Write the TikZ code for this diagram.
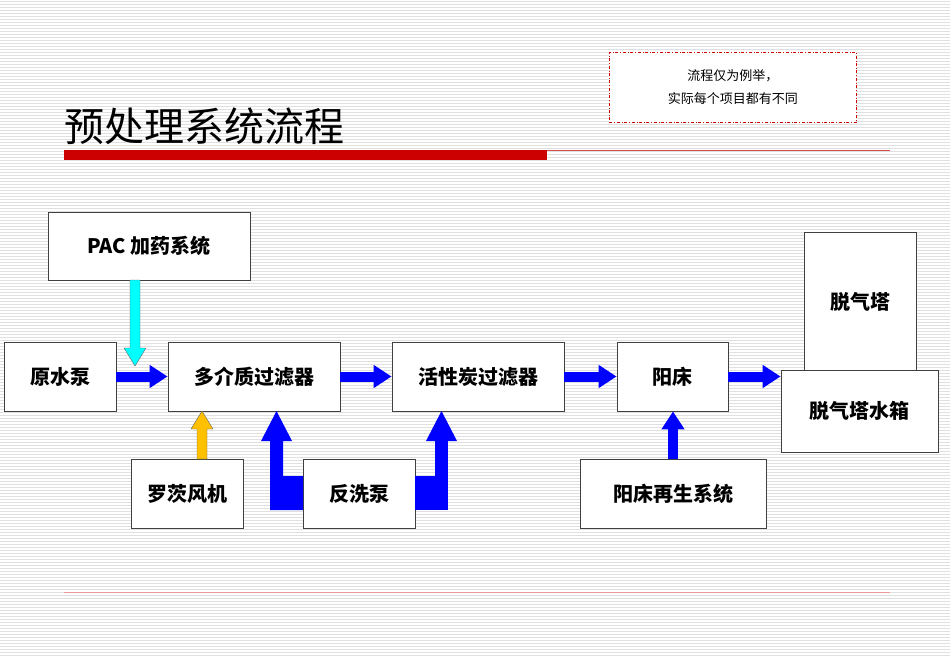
\documentclass[tikz,border=0pt]{standalone}
\usepackage{fontspec}
\setmainfont{Noto Sans CJK SC}
\usetikzlibrary{arrows.meta,calc}
\definecolor{bl}{RGB}{0,0,255}
\definecolor{cy}{RGB}{0,255,255}
\definecolor{yl}{RGB}{255,192,0}
\definecolor{rd}{RGB}{204,0,0}
\begin{document}
\begin{tikzpicture}[x=1pt,y=-1pt,
 box/.style={draw=black!75,line width=0.8pt,fill=white,font=\bfseries\fontsize{20}{22}\selectfont,inner sep=0pt},
 barr/.style={draw=black!60,line width=0.4pt,fill=#1},
 harr/.style={-{Triangle[length=18pt 0 0,width=22pt 0 0]},line width=10pt,color=bl}]
\useasboundingbox (0,0) rectangle (950,658);
\fill[white] (0,0) rectangle (950,658);
\foreach \i in {0,...,219} \draw[black!12,line width=0.6pt] (0,3*\i+1) -- (950,3*\i+1);
% title
\node[anchor=west,font=\fontsize{40}{44}\selectfont,inner sep=0pt] (title) at (64,126) {预处理系统流程};
\fill[rd] (64,150) rectangle (547,160);
\draw[rd!70,line width=0.8pt] (547,150) -- (890,150);
\draw[rd!40,line width=0.8pt] (64,592) -- (890,592);
\node[draw=rd,dash dot,line width=0.8pt,minimum width=247pt,minimum height=70pt,anchor=north west,fill=white,align=center,font=\fontsize{13}{23}\selectfont] (note) at (609,52) {流程仅为例举，\\实际每个项目都有不同};
% boxes
\node[box,minimum width=202pt,minimum height=68pt] (pac) at (149,246) {PAC 加药系统};
\node[box,minimum width=112pt,minimum height=69pt] (ys) at (60,376.5) {原水泵};
\node[box,minimum width=172pt,minimum height=69pt] (dj) at (254,376.5) {多介质过滤器};
\node[box,minimum width=172pt,minimum height=69pt] (hx) at (478,376.5) {活性炭过滤器};
\node[box,minimum width=111pt,minimum height=69pt] (yc) at (672.5,376.5) {阳床};
\node[box,minimum width=112pt,minimum height=138pt,text depth=0pt] (tq) at (860,301) {};
\node[font=\bfseries\fontsize{20}{22}\selectfont] at (860,302) {脱气塔};
\node[box,minimum width=157pt,minimum height=82pt] (sx) at (859.5,411) {脱气塔水箱};
\node[box,minimum width=112pt,minimum height=69pt] (lc) at (187,493.5) {罗茨风机};
\node[box,minimum width=112pt,minimum height=69pt] (fx) at (359,493.5) {反洗泵};
\node[box,minimum width=186pt,minimum height=69pt] (yz) at (673,493.5) {阳床再生系统};
% horizontal arrows
\draw[harr] (ys.east) -- (dj.west);
\draw[harr] (dj.east) -- (hx.west);
\draw[harr] (hx.east) -- (yc.west);
\draw[harr] (yc.east) -- (yc.east -| sx.west);
% cyan down
\draw[barr=cy] (130,280) -- (140,280) -- (140,348) -- (146,348) -- (135,366) -- (124,348) -- (130,348) -- cycle;
% yellow up
\draw[barr=yl] (197,459) -- (207,459) -- (207,429) -- (213,429) -- (202,411) -- (191,429) -- (197,429) -- cycle;
% yangchuang regen up
\draw[harr] (yz.north) -- (yz.north |- yc.south);
% backwash
\fill[bl] (fx.west |- 0,476) -- (270,476) -- (270,441) -- (261,441) -- (276.5,411) -- (292,441) -- (283,441) -- (283,476) -- (283,510) -- (270,510) -- (270,476) -- (303,476) -- (303,510) -- (270,510) -- cycle;
\fill[bl] (270,476) rectangle (303,510);
\fill[bl] (270,441) rectangle (283,510);
\fill[bl] (415,476) rectangle (447,510);
\fill[bl] (435,441) rectangle (448,510);
\fill[bl] (426,441) -- (441.5,411) -- (457,441) -- cycle;
\end{tikzpicture}
\end{document}
